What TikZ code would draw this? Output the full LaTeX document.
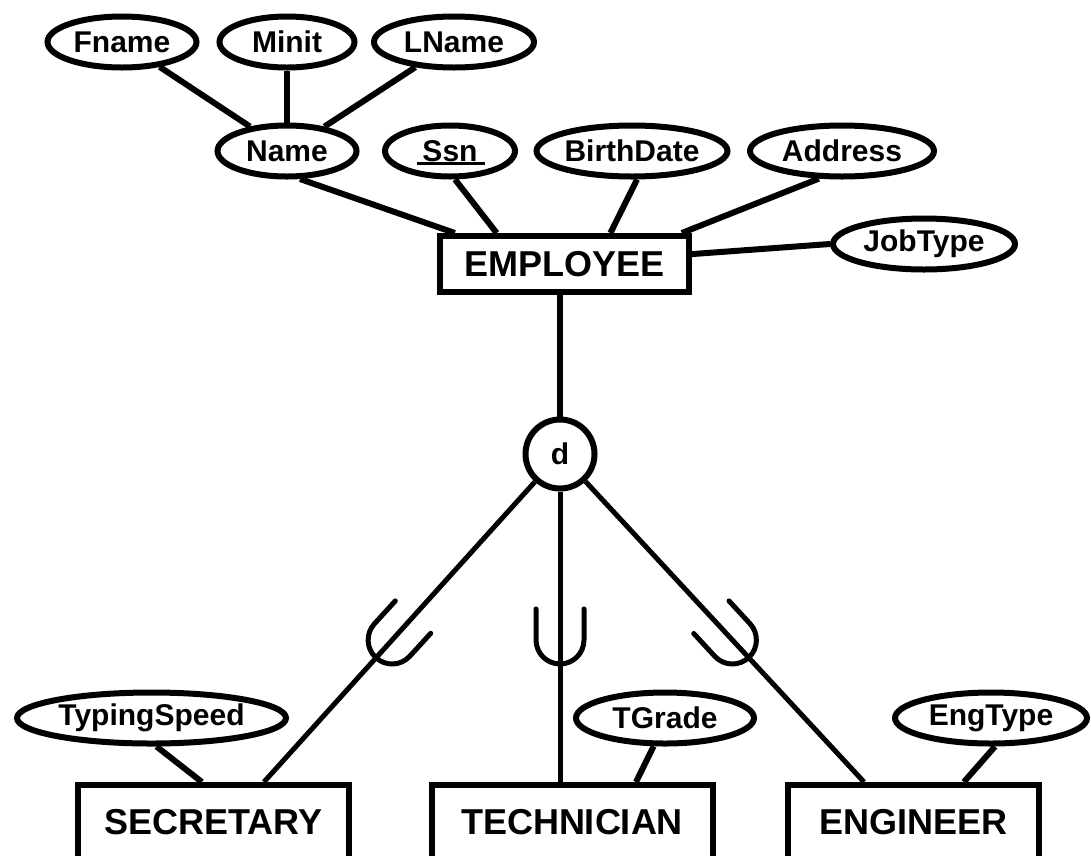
\documentclass[tikz,border=0pt]{standalone}
\usepackage{fontspec}
\setmainfont{Liberation Sans}
\usetikzlibrary{calc,shapes.geometric}
\begin{document}
\begin{tikzpicture}[x=1pt,y=-1pt,
  line width=6pt,
  attr/.style={draw, ellipse, inner sep=0pt, minimum height=51pt,
    font=\fontsize{30}{36}\selectfont\bfseries},
  ent/.style={draw, rectangle, inner sep=0pt,
    font=\fontsize{36}{42}\selectfont\bfseries},
  subent/.style={ent, anchor=north, text height=26pt, text depth=60pt,
    inner ysep=23pt, inner xsep=0pt},
  disj/.style={draw, circle, minimum size=69pt, inner sep=0pt,
    font=\fontsize{30}{36}\selectfont\bfseries},
  link/.style={line width=6pt},
  sublink/.style={line width=5pt},
  subsetU/.pic={\draw[line width=5pt, line cap=round]
      (31,24) -- (0,24) arc[start angle=90, end angle=270, radius=24] -- (31,-24);}
]
\useasboundingbox (0,0) rectangle (1091,855);

% attributes
\node[attr, minimum width=149pt] (fname) at (122,42) {Fname};
\node[attr, minimum width=135pt] (minit) at (287,42) {Minit};
\node[attr, minimum width=160pt] (lname) at (454,42) {LName};
\node[attr, minimum width=139pt] (name)  at (287,151) {Name};
\node[attr, minimum width=130pt] (ssn)   at (450,151) {Ssn};
\node[attr, minimum width=176pt] (bdate) at (632,151) {BirthDate};
\node[attr, minimum width=184pt] (addr)  at (842,151) {Address};
\node[attr, minimum width=182pt] (job)   at (924,244) {JobType};
\draw[line width=3pt] ([xshift=-33pt,yshift=-12pt]ssn.center) -- ([xshift=35pt,yshift=-12pt]ssn.center);

% entities
\node[ent, minimum width=249pt, minimum height=56pt] (emp) at (564.5,264) {EMPLOYEE};
\node[disj] (d) at (560,454) {d};

\node[attr, minimum width=269pt] (typ)  at (151.5,718) {TypingSpeed};
\node[attr, minimum width=178pt] (tgr)  at (665,718) {TGrade};
\node[attr, minimum width=192pt] (engt) at (991,718) {EngType};

\node[subent, minimum width=271pt] (sec)  at (213.5,782) {SECRETARY};
\node[subent, minimum width=281pt] (tech) at (572,782) {TECHNICIAN};
\node[subent, minimum width=251pt] (eng)  at (913.5,782) {ENGINEER};

% connection points
\coordinate (empA) at ($(emp.north west)!0.07!(emp.north east)$);
\coordinate (empB) at ($(emp.north west)!0.234!(emp.north east)$);
\coordinate (empC) at ($(emp.north west)!0.68!(emp.north east)$);
\coordinate (empD) at ($(emp.north west)!0.96!(emp.north east)$);
\coordinate (empE) at ($(emp.north east)!0.34!(emp.south east)$);
\coordinate (secD) at ($(sec.north west)!0.682!(sec.north east)$);
\coordinate (secA) at ($(sec.north west)!0.458!(sec.north east)$);
\coordinate (techA) at ($(tech.north west)!0.723!(tech.north east)$);
\coordinate (engD) at ($(eng.north west)!0.3075!(eng.north east)$);
\coordinate (engA) at ($(eng.north west)!0.696!(eng.north east)$);

% connectors
\draw[link] (fname) -- (name);
\draw[link] (minit) -- (name);
\draw[link] (lname) -- (name);
\draw[link] (name.-65) -- (empA);
\draw[link] (ssn.-80) -- (empB);
\draw[link] (bdate.-80) -- (empC);
\draw[link] (addr.-130) -- (empD);
\draw[link] (empE) -- (job.west);
\draw[link] (emp.south -| d.north) -- (d.north);

\draw[sublink] (d) -- (secD);
\draw[sublink] (d.south) -- (d.south |- tech.north);
\draw[sublink] (d) -- (engD);

\draw[link] (typ.-80) -- (secA);
\draw[link] (tgr.-112) -- (techA);
\draw[link] (engt.-82) -- (engA);

% subset symbols
\pic[rotate=47.6] at ($(d)!0.567!(secD)$) {subsetU};
\pic[rotate=90] at ($(d.center)!0.567!(d.center |- tech.north)$) {subsetU};
\pic[rotate=132.7] at ($(d)!0.567!(engD)$) {subsetU};
\end{tikzpicture}
\end{document}
